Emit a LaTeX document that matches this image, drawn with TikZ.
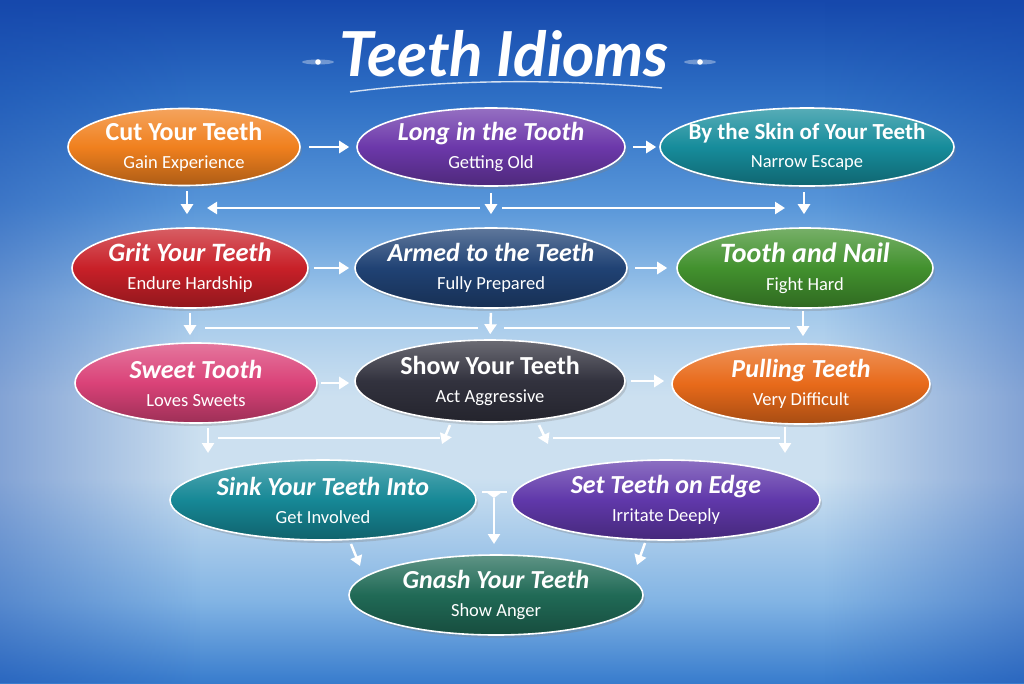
\documentclass[tikz,border=0pt]{standalone}
\usepackage{fontspec}
\usetikzlibrary{arrows.meta, shapes.geometric, shadows, fadings, calc, positioning}
\newfontfamily\boxfont{Carlito}
\newfontfamily\titlefont{Lato}

\definecolor{skyA}{RGB}{22,72,172}
\definecolor{skyB}{RGB}{45,110,196}
\definecolor{skyC}{RGB}{88,150,217}
\definecolor{skyD}{RGB}{158,198,234}
\definecolor{skyE}{RGB}{204,224,240}
\definecolor{skyF}{RGB}{130,180,228}
\definecolor{skyG}{RGB}{56,124,205}
\definecolor{cutC}{RGB}{240,128,30}
\definecolor{longC}{RGB}{108,56,170}
\definecolor{skinC}{RGB}{22,140,155}
\definecolor{gritC}{RGB}{200,32,40}
\definecolor{armedC}{RGB}{32,66,116}
\definecolor{nailC}{RGB}{66,145,46}
\definecolor{sweetC}{RGB}{218,66,120}
\definecolor{showC}{RGB}{50,50,62}
\definecolor{pullC}{RGB}{232,106,26}
\definecolor{sinkC}{RGB}{22,136,150}
\definecolor{setC}{RGB}{96,56,170}
\definecolor{gnashC}{RGB}{32,106,86}

% the path covers 25bp (bottom) to 75bp (top)
\pgfdeclareverticalshading{skyfall}{100bp}{color(0bp)=(skyG); color(25bp)=(skyG); color(31bp)=(skyF); color(40bp)=(skyE); color(46bp)=(skyE); color(53bp)=(skyD); color(60bp)=(skyC); color(68bp)=(skyB); color(75bp)=(skyA); color(100bp)=(skyA)}

\newcommand\idhead[2][26]{{\fontsize{#1}{25}\selectfont\bfseries #2}}
\newcommand\idheadit[2][26]{{\fontsize{#1}{25}\selectfont\bfseries\itshape #2}}
\newcommand\idsub[1]{{\fontsize{18.5}{25}\selectfont #1}}

\tikzset{
    bubble/.style={ellipse, draw=white, line width=1.6pt,
        top color=#1!72!white, bottom color=#1!72!black, middle color=#1,
        drop shadow={opacity=.3, shadow xshift=2pt, shadow yshift=-3pt},
        text=white, align=center, inner sep=-20pt,
        font=\boxfont\fontsize{18.5}{25}\selectfont},
    link/.style={draw=white, line width=2.5pt, -{Triangle[length=10pt, width=12pt]}},
    rail/.style={draw=white, line width=2.5pt}
}

\begin{document}
\begin{tikzpicture}[x=1pt, y=-1pt]
    \def \ry {40}
    \useasboundingbox (0,0) rectangle (1024,683);
    % sky
    \shade[shading=skyfall] (0,0) rectangle (1024,683);
    \fill[skyA, opacity=.4, path fading=east] (0,0) rectangle (200,683);
    \fill[skyA, opacity=.4, path fading=west] (824,0) rectangle (1024,683);

    % title
    \node[font=\titlefont\bfseries\itshape\fontsize{62}{62}\selectfont, text=white, anchor=base] (title) at (504,76) {Teeth Idioms};
    \draw[white, line width=1.4pt, opacity=.8] (350,92) .. controls (450,79) and (560,79) .. (662,88);
    \fill[white, opacity=.35] (318,62) ellipse (16 and 2.5);
    \fill[white] (318,62) circle (2.8);
    \fill[white, opacity=.35] (700,62) ellipse (16 and 2.5);
    \fill[white] (700,62) circle (2.8);

    % row 1
    \node[bubble=cutC, minimum width=232, minimum height=2*\ry-3] (cut) at (184,147) {\idhead{Cut Your Teeth}\\[3pt]\idsub{Gain Experience}};
    \node[bubble=longC, minimum width=268, minimum height=2*\ry-2] (long) at (491,147) {\idheadit{Long in the Tooth}\\[3pt]\idsub{Getting Old}};
    \node[bubble=skinC, minimum width=294, minimum height=2*\ry-2] (skin) at (807,147) {\idhead[23]{By the Skin of Your Teeth}\\[3pt]\idsub{Narrow Escape}};
    % row 2
    \node[bubble=gritC, minimum width=236, minimum height=2*\ry] (grit) at (190,268) {\idheadit[26.5]{Grit Your Teeth}\\[3pt]\idsub{Endure Hardship}};
    \node[bubble=armedC, minimum width=272, minimum height=2*\ry] (armed) at (491,268) {\idheadit{Armed to the Teeth}\\[3pt]\idsub{Fully Prepared}};
    \node[bubble=nailC, minimum width=256, minimum height=2*\ry] (nail) at (805,268) {\idheadit[28]{Tooth and Nail}\\[3pt]\idsub{Fight Hard}};
    % row 3
    \node[bubble=sweetC, minimum width=242, minimum height=2*\ry] (sweet) at (196,383) {\idheadit{Sweet Tooth}\\[3pt]\idsub{Loves Sweets}};
    \node[bubble=showC, minimum width=270, minimum height=2*\ry+2] (show) at (490,381) {\idhead{Show Your Teeth}\\[3pt]\idsub{Act Aggressive}};
    \node[bubble=pullC, minimum width=258, minimum height=2*\ry] (pull) at (801,384) {\idheadit{Pulling Teeth}\\[3pt]\idsub{Very Difficult}};
    % row 4
    \node[bubble=sinkC, minimum width=306, minimum height=2*\ry] (sink) at (323,500) {\idheadit{Sink Your Teeth Into}\\[3pt]\idsub{Get Involved}};
    \node[bubble=setC, minimum width=308, minimum height=2*\ry] (edge) at (666,500) {\idheadit{Set Teeth on Edge}\\[3pt]\idsub{Irritate Deeply}};
    % row 5
    \node[bubble=gnashC, minimum width=294, minimum height=2*\ry] (gnash) at (496,595) {\idheadit{Gnash Your Teeth}\\[3pt]\idsub{Show Anger}};

    % across the rows
    \draw[link, shorten <=8pt, shorten >=7pt] (cut) -- (long);
    \draw[link, shorten <=7pt, shorten >=3pt] (long) -- (skin);
    \draw[link, shorten <=5pt, shorten >=5pt] (grit) -- (armed);
    \draw[link, shorten <=7pt, shorten >=9pt] (armed) -- (nail);
    \draw[link, shorten <=3pt, shorten >=5pt] (sweet.east) -- (sweet.east -| show.west);
    \draw[link, shorten <=5pt, shorten >=7pt] (show.east) -- (show.east -| pull.west);

    % row 1 to row 2
    \coordinate (busA) at (491,208);
    \draw[link, shorten <=5pt, shorten >=13pt] ([xshift=3pt]cut.south) -- ([xshift=3pt]cut.south |- grit.north);
    \draw[link, shorten <=6pt, shorten >=13pt] (long.south) -- (armed.north);
    \draw[link, shorten <=5pt, shorten >=13pt] ([xshift=-3pt]skin.south) -- ([xshift=-3pt]skin.south |- nail.north);
    \draw[link, shorten <=11pt, shorten >=23pt] (busA) -- (cut.south |- busA);
    \draw[link, shorten <=11pt, shorten >=22pt] (busA) -- (skin.south |- busA);

    % row 2 to row 3
    \coordinate (busB) at (491,328);
    \draw[link, shorten <=4pt, shorten >=7pt] (grit.south) -- (grit.south |- sweet.north);
    \draw[link, shorten <=4pt, shorten >=5pt] (armed.south) -- (show.north);
    \draw[link, shorten <=2pt, shorten >=7pt] ([xshift=-2pt]nail.south) -- ([xshift=-2pt]nail.south |- pull.north);
    \draw[rail, shorten <=13pt, shorten >=15pt] (busB) -- (grit.south |- busB);
    \draw[rail, shorten <=13pt, shorten >=15pt] (busB) -- (nail.south |- busB);

    % row 3 to row 4
    \coordinate (sweetOut) at (208,428);
    \coordinate (sinkIn) at (208,453);
    \coordinate (railCl) at (218,438);
    \coordinate (railCm) at (440,438);
    \coordinate (showOutL) at (450,425);
    \coordinate (sinkInR) at (442,444);
    \coordinate (showOutR) at (539,425);
    \coordinate (edgeInL) at (548,444);
    \coordinate (railCn) at (553,438);
    \coordinate (railCr) at (780,438);
    \coordinate (pullOut) at (785,427);
    \coordinate (edgeIn) at (785,453);
    \draw[link] (sweetOut) -- (sinkIn);
    \draw[rail] (railCl) -- (railCm);
    \draw[link] (showOutL) -- (sinkInR);
    \draw[link] (showOutR) -- (edgeInL);
    \draw[rail] (railCn) -- (railCr);
    \draw[link] (pullOut) -- (edgeIn);

    % row 4 to row 5
    \coordinate (teeL) at (482,492);
    \coordinate (teeR) at (507,492);
    \coordinate (teeM) at (494,498);
    \coordinate (gnashTop) at (494,544);
    \coordinate (sinkOut) at (351,544);
    \coordinate (gnashInL) at (360,566);
    \coordinate (edgeOut) at (645,543);
    \coordinate (gnashInR) at (637,565);
    \draw[rail] (teeL) -- (teeR);
    \fill[white] (486,492) -- (teeM) -- (502,492) -- cycle;
    \draw[link] (teeM) -- (gnashTop);
    \draw[link] (sinkOut) -- (gnashInL);
    \draw[link] (edgeOut) -- (gnashInR);
\end{tikzpicture}
\end{document}
